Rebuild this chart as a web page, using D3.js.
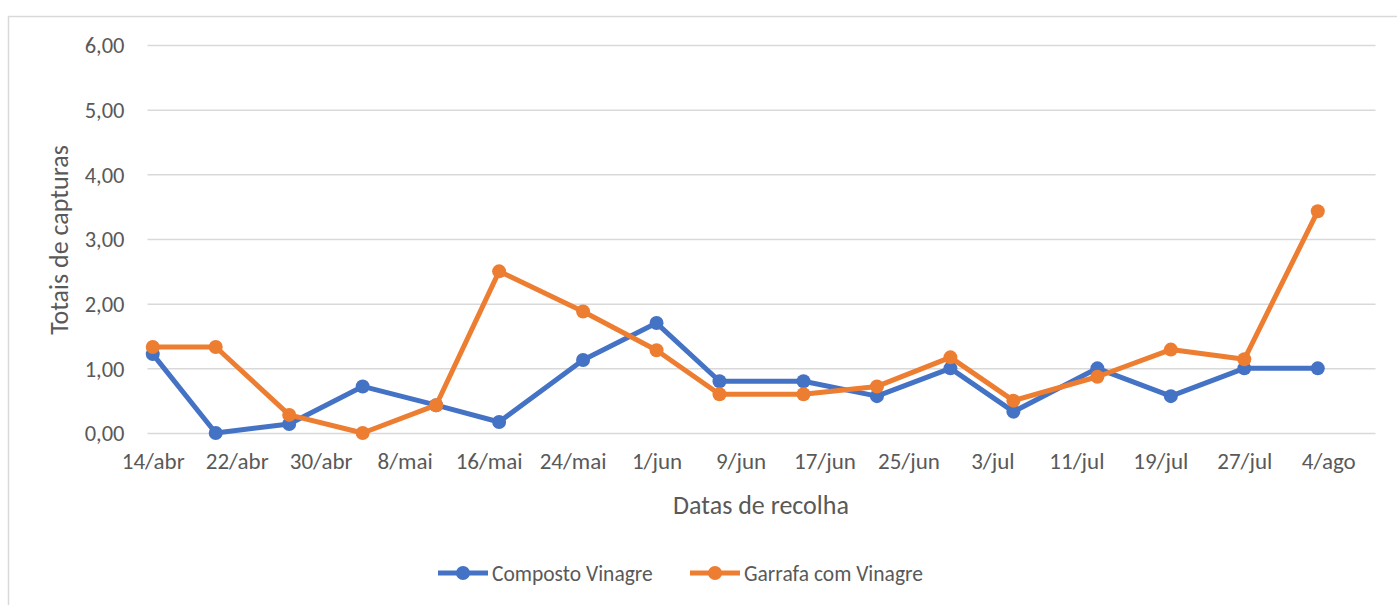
<!DOCTYPE html>
<html>
<head>
<meta charset="utf-8">
<script src="https://cdn.jsdelivr.net/npm/d3@7"></script>
<style>
  body { margin: 0; background: #fff; }
  svg text { font-family: Carlito, Lato, "Noto Sans", sans-serif; fill: #595959; }
</style>
</head>
<body>
<svg id="chart" width="1397" height="605"></svg>
<script>
// collection dates (day/month) and the two series
var dates = ["14/4", "20/4", "27/4", "4/5", "11/5", "17/5", "25/5", "1/6", "7/6",
             "15/6", "22/6", "29/6", "5/7", "13/7", "20/7", "27/7", "3/8"];
var composto = [1.22, 0.00, 0.14, 0.72, 0.43, 0.17, 1.13, 1.70, 0.80,
                0.80, 0.57, 1.00, 0.33, 1.00, 0.57, 1.00, 1.00];
var garrafa = [1.33, 1.33, 0.28, 0.00, 0.43, 2.50, 1.88, 1.28, 0.60,
               0.60, 0.72, 1.17, 0.50, 0.87, 1.29, 1.14, 3.43];
var seriesNames = ["Composto Vinagre", "Garrafa com Vinagre"];
var colors = ["#4472C4", "#ED7D31"];
var xTicks = ["14/abr", "22/abr", "30/abr", "8/mai", "16/mai", "24/mai", "1/jun", "9/jun",
              "17/jun", "25/jun", "3/jul", "11/jul", "19/jul", "27/jul", "4/ago"];
var yTicks = [0, 1, 2, 3, 4, 5, 6];

var meses = {jan: 0, fev: 1, mar: 2, abr: 3, mai: 4, jun: 5, jul: 6, ago: 7};
function parseDM(s) {
  var p = s.split("/");
  var m = isNaN(+p[1]) ? meses[p[1]] : +p[1] - 1;
  return new Date(Date.UTC(2021, m, +p[0]));
}

var svg = d3.select("#chart");

// chart area border
svg.append("rect")
  .attr("x", 8.5).attr("y", 16.5)
  .attr("width", 1420).attr("height", 620)
  .attr("fill", "none").attr("stroke", "#D9D9D9").attr("stroke-width", 1.5);

var plotLeft = 147.5, plotRight = 1375.5, plotTop = 45, plotBottom = 433;

// date axis, each day is a slot, points sit in the middle of their slot
var x = d3.scaleUtc()
  .domain([d3.utcHour.offset(parseDM("14/4"), -12), d3.utcHour.offset(parseDM("8/8"), 12)])
  .range([plotLeft, plotRight]);
var y = d3.scaleLinear().domain([0, 6]).range([plotBottom, plotTop]);

var yAxis = d3.axisLeft(y).tickValues(yTicks)
  .tickSize(-(plotRight - plotLeft))
  .tickFormat(function(d) { return d3.format(".2f")(d).replace(".", ","); });
var gy = svg.append("g").attr("transform", "translate(" + plotLeft + ",0)").call(yAxis);
gy.select(".domain").remove();
gy.selectAll("line").attr("stroke", "#D9D9D9").attr("stroke-width", 1.5);
gy.selectAll("text").attr("x", -23).attr("dy", "0.35em")
  .style("font-size", "22.5px").style("fill", "#595959");

var xAxis = d3.axisBottom(x).tickValues(xTicks.map(parseDM))
  .tickSize(0)
  .tickFormat(function(d, i) { return xTicks[i]; });
var gx = svg.append("g").attr("transform", "translate(0," + plotBottom + ")").call(xAxis);
gx.select(".domain").remove();
gx.selectAll("text").attr("y", 28).attr("dy", "0.35em")
  .style("font-size", "23px").style("fill", "#595959");

// axis titles
svg.append("text")
  .attr("transform", "translate(68,240) rotate(-90)")
  .attr("text-anchor", "middle")
  .style("font-size", "26px")
  .text("Totais de capturas");
svg.append("text")
  .attr("x", 761).attr("y", 514)
  .attr("text-anchor", "middle")
  .style("font-size", "26px")
  .text("Datas de recolha");

var line = d3.line()
  .x(function(d) { return x(parseDM(d.date)); })
  .y(function(d) { return y(d.value); });

[composto, garrafa].forEach(function(vals, k) {
  var pts = vals.map(function(v, i) { return {date: dates[i], value: v}; });
  svg.append("path").datum(pts)
    .attr("d", line)
    .attr("fill", "none")
    .attr("stroke", colors[k])
    .attr("stroke-width", 5)
    .attr("stroke-linejoin", "round");
  svg.append("g").selectAll("circle").data(pts).enter().append("circle")
    .attr("cx", function(d) { return x(parseDM(d.date)); })
    .attr("cy", function(d) { return y(d.value); })
    .attr("r", 7)
    .attr("fill", colors[k]);
});

// legend
var legendX = [438, 690];
seriesNames.forEach(function(name, k) {
  var g = svg.append("g").attr("transform", "translate(" + legendX[k] + ",573)");
  g.append("line").attr("x1", 0).attr("x2", 50)
    .attr("stroke", colors[k]).attr("stroke-width", 5);
  g.append("circle").attr("cx", 25).attr("r", 7).attr("fill", colors[k]);
  g.append("text").attr("x", 54).attr("dy", "0.35em")
    .style("font-size", "21.5px").text(name);
});
</script>
</body>
</html>
